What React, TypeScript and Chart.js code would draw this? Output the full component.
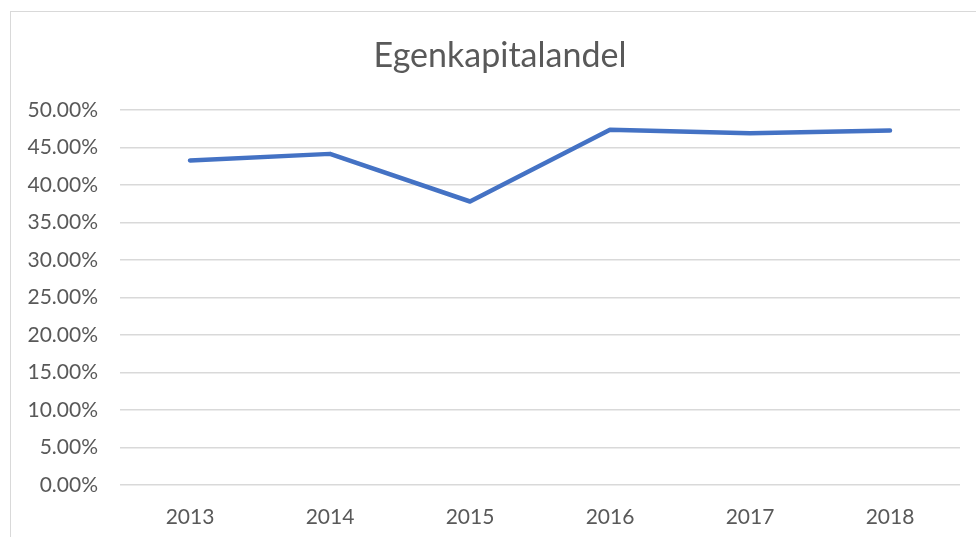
import React, { useEffect, useRef } from "react";
import { Chart, registerables } from "chart.js";

Chart.register(...registerables);

const title = "Egenkapitalandel";
const years = ["2013", "2014", "2015", "2016", "2017", "2018"];
const equityShare = [43.27, 44.15, 37.8, 47.36, 46.9, 47.27];
const yMin = 0;
const yMax = 50;
const yStep = 5;

const FONT = "Lato, 'Open Sans', sans-serif";
const TEXT = "#595959";
const GRID = "#d9d9d9";

const titlePlugin = {
  id: "offsetTitle",
  afterDraw(chart: any) {
    const ctx = chart.ctx;
    ctx.save();
    ctx.fillStyle = TEXT;
    ctx.font = `normal 34px ${FONT}`;
    ctx.textAlign = "center";
    ctx.textBaseline = "alphabetic";
    ctx.fillText(title, 500, 67);
    ctx.restore();
  },
};

export default function App() {
  const ref = useRef<HTMLCanvasElement | null>(null);

  useEffect(() => {
    if (!ref.current) return;
    const chart = new Chart(ref.current, {
      type: "line",
      data: {
        labels: years,
        datasets: [
          {
            label: title,
            data: equityShare,
            borderColor: "#4472C4",
            backgroundColor: "#4472C4",
            borderWidth: 4.5,
            borderCapStyle: "round",
            borderJoinStyle: "round",
            pointRadius: 0,
            pointHoverRadius: 0,
            tension: 0,
            fill: false,
          },
        ],
      },
      options: {
        animation: false,
        responsive: true,
        maintainAspectRatio: false,
        layout: { padding: { left: 0, right: 16, top: 110, bottom: 0 } },
        plugins: {
          legend: { display: false },
          tooltip: { enabled: false },
          title: { display: false },
        },
        scales: {
          x: {
            offset: true,
            grid: { display: false, drawTicks: false },
            border: { display: false },
            ticks: {
              color: TEXT,
              font: { family: FONT, size: 21 },
              padding: 20,
              maxRotation: 0,
            },
            afterFit: (s: any) => {
              s.height = 52;
            },
          },
          y: {
            min: yMin,
            max: yMax,
            grid: { color: GRID, lineWidth: 1.5, drawTicks: false },
            border: { display: false },
            ticks: {
              stepSize: yStep,
              color: TEXT,
              font: { family: FONT, size: 21 },
              padding: 22,
              callback: (v: any) => Number(v).toFixed(2) + "%",
            },
            afterFit: (s: any) => {
              s.width = 120;
            },
          },
        },
      },
      plugins: [titlePlugin],
    });
    return () => chart.destroy();
  }, []);

  return (
    <div
      style={{
        position: "fixed",
        left: 0,
        top: 0,
        width: 976,
        height: 537,
        overflow: "hidden",
        background: "#ffffff",
      }}
    >
      <div
        style={{
          position: "absolute",
          left: 10,
          top: 11,
          width: 1000,
          height: 600,
          border: `1px solid ${GRID}`,
          boxSizing: "border-box",
        }}
      />
      <div style={{ position: "absolute", left: 0, top: 0, width: 976, height: 537 }}>
        <canvas ref={ref} />
      </div>
    </div>
  );
}
